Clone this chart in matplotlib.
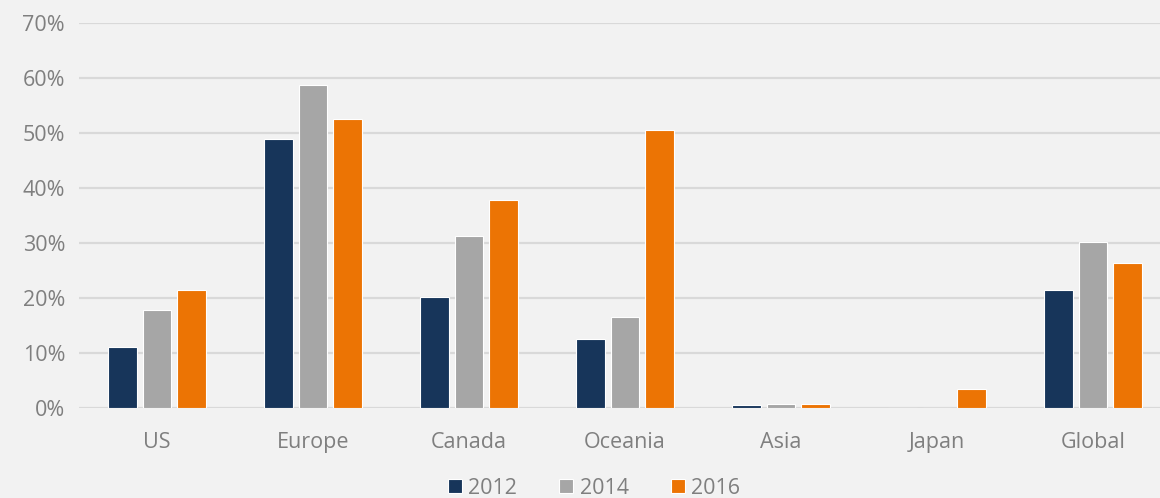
import matplotlib.pyplot as plt
import numpy as np

regions = ['US', 'Europe', 'Canada', 'Oceania', 'Asia', 'Japan', 'Global']
years = ['2012', '2014', '2016']
v2012 = [11.1, 48.9, 20.2, 12.5, 0.5, 0.0, 21.5]
v2014 = [17.8, 58.7, 31.3, 16.5, 0.7, 0.0, 30.2]
v2016 = [21.5, 52.5, 37.8, 50.5, 0.7, 3.5, 26.4]
colors = ['#17355a', '#a6a6a6', '#ec7404']

plt.rcParams['font.family'] = ['Open Sans', 'DejaVu Sans']
bg = '#f2f2f2'
txt = '#7f7f7f'

fig = plt.figure(figsize=(11.6, 4.98), dpi=100, facecolor=bg)
ax = fig.add_axes([79 / 1160, 90 / 498, 1 - 79 / 1160, (408 - 23) / 498])
ax.set_facecolor(bg)

x = np.arange(len(regions))
step = 0.22
w = 0.185
for i, (vals, yr) in enumerate(zip([v2012, v2014, v2016], years)):
    ax.bar(x + (i - 1) * step, vals, w, color=colors[i], edgecolor='white',
           linewidth=0.8, label=yr, zorder=3)

ax.set_xlim(-0.5, 6.5 - 11 / 156)
ax.set_ylim(0, 70)
ax.set_yticks(np.arange(0, 71, 10))
ax.set_yticklabels([f'{t}%' for t in range(0, 71, 10)])
ax.set_xticks(x)
ax.set_xticklabels(regions)
ax.yaxis.grid(True, color='#d9d9d9', linewidth=1.6, zorder=0)
ax.tick_params(axis='both', length=0, labelsize=15.5, colors=txt)
ax.tick_params(axis='x', pad=17)
ax.tick_params(axis='y', pad=10)
for s in ax.spines.values():
    s.set_visible(False)

leg = fig.legend(loc='lower center', bbox_to_anchor=(0.512, -0.04), ncol=3,
                 frameon=False, fontsize=15.5, handlelength=0.65, handleheight=0.65,
                 columnspacing=1.95, handletextpad=0.3)
for t in leg.get_texts():
    t.set_color(txt)

fig.savefig('out.png', dpi=100, facecolor=bg)
